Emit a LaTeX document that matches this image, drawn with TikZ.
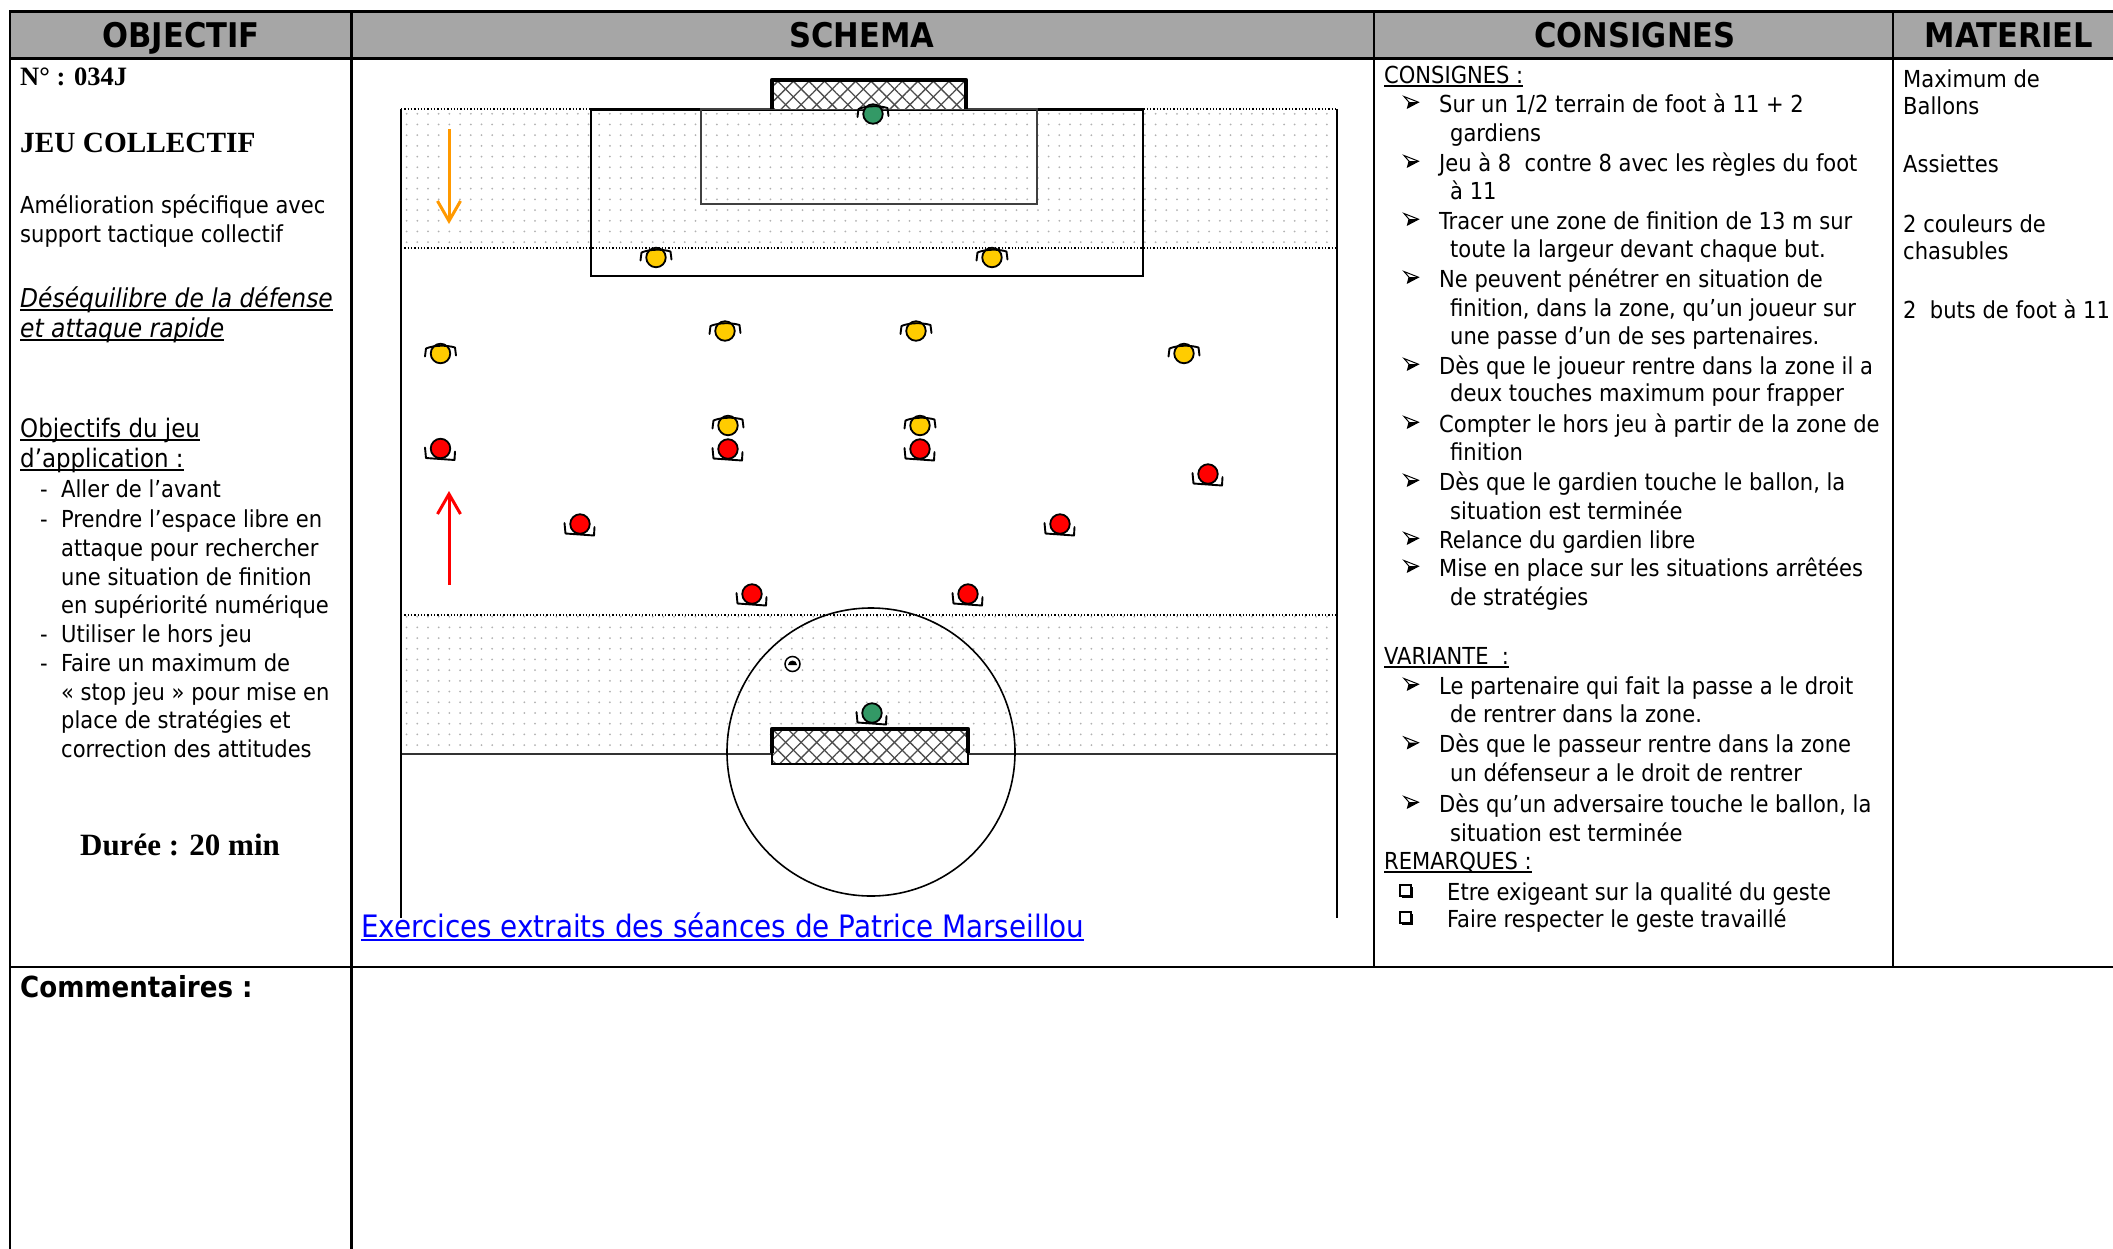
\documentclass[tikz,border=0pt]{standalone}
\usepackage{fontspec}
\setmainfont{DejaVu Sans Condensed}
\newfontfamily\tms{Liberation Serif}
\usetikzlibrary{patterns.meta,arrows.meta}
\definecolor{hdr}{RGB}{166,166,166}
\definecolor{pyel}{RGB}{255,204,0}
\definecolor{pred}{RGB}{255,0,0}
\definecolor{pgrn}{RGB}{51,153,102}
\definecolor{porg}{RGB}{255,153,0}
\definecolor{lnk}{RGB}{0,0,255}
\newcommand\myul[1]{\setbox0\hbox{#1}\rlap{\rule[-3.5pt]{\wd0}{1.6pt}}\box0}
\tikzset{
  grid/.style={line width=2.6pt, line cap=rect},
  txt/.style={anchor=base west, inner sep=0pt, font=\fontsize{23.4}{28}\selectfont},
  txtb/.style={anchor=base west, inner sep=0pt, font=\fontsize{25.5}{30}\selectfont},
  txti/.style={anchor=base west, inner sep=0pt, font=\fontsize{26}{30}\selectfont\itshape},
  hd/.style={anchor=base, inner sep=0pt, font=\fontsize{34}{38}\selectfont\bfseries},
  tmsb/.style={anchor=base west, inner sep=0pt, font=\tms\bfseries\fontsize{26.5}{30}\selectfont},
  plyr/.style={circle, draw=black, line width=1.8pt, minimum size=19.5pt, inner sep=0pt},
  arm/.style={line width=1.9pt, line join=round, line cap=round},
  zone/.style={pattern={Dots[distance=10.7pt, radius=1pt]}, pattern color=black!30},
  net/.style={pattern={Lines[angle=45, distance=11pt, line width=1.3pt]}, pattern color=black!70},
  net2/.style={pattern={Lines[angle=-45, distance=11pt, line width=1.3pt]}, pattern color=black!70},
  fline/.style={line width=1.6pt},
  dline/.style={line width=1.3pt, dotted},
  goalf/.style={line width=4.6pt, line join=round},
  arrowln/.style={line width=3pt, -{Straight Barb[length=20pt, width=23pt]}},
}
\newcommand\pyl[3]{\node[plyr, fill=pyel] (#1) at (#2,#3) {};
  \draw[arm] ([shift={(-15.5,3)}]#1.center) -- ([shift={(-14.5,-5)}]#1.center) .. controls ([shift={(-6,-8.5)}]#1.center) and ([shift={(6,-8.5)}]#1.center) .. ([shift={(14.5,-6)}]#1.center) -- ([shift={(15.5,2)}]#1.center);}
\newcommand\prd[3]{\node[plyr, fill=pred] (#1) at (#2,#3) {};
  \draw[arm] ([shift={(-15.5,-1)}]#1.center) -- ([shift={(-14.5,9.5)}]#1.center) -- ([shift={(14,11.5)}]#1.center) -- ([shift={(14.5,3)}]#1.center);}
\newcommand\arrbul[2]{\fill[black] (#1+5,#2-9.8) -- (#1+14.5,#2-9.8) -- (#1+3.5,#2-4) -- cycle;
  \draw[line width=1pt, line join=miter] (#1,#2-15.5) -- (#1+14.5,#2-9.8) -- (#1+3.5,#2-4) -- (#1+5,#2-9.8) -- cycle;}
\newcommand\sqbul[2]{\draw[line width=1.1pt] (#1,#2-15) rectangle (#1+11,#2-4);
  \draw[line width=2.4pt] (#1+1.5,#2-2.8) -- (#1+12.2,#2-2.8) -- (#1+12.2,#2-13.5);}
\begin{document}
\begin{tikzpicture}[x=1pt,y=-1pt]
\useasboundingbox (0,0) rectangle (2113,1248);
\fill[white] (0,0) rectangle (2113,1248);
% ---------- table ----------
\fill[hdr] (10,11.5) rectangle (2113,58.5);
\draw[grid] (10,11.5) -- (2113,11.5);
\draw[grid] (10,58.5) -- (2113,58.5);
\draw[grid] (10,967) -- (2113,967);
\draw[grid] (10,11.5) -- (10,1260);
\draw[grid] (351.5,11.5) -- (351.5,1260);
\draw[grid] (1374,11.5) -- (1374,967);
\draw[grid] (1893,11.5) -- (1893,967);
\node[hd] (h1) at (181,47) {OBJECTIF};
\node[hd] (h2) at (862,47) {SCHEMA};
\node[hd] (h3) at (1635,47) {CONSIGNES};
\node[hd] (h4) at (2009,47) {MATERIEL};
% ---------- left column ----------
\node[tmsb] (num) at (20,85) {N° : 034J};
\node[tmsb, font=\tms\bfseries\fontsize{29.3}{32}\selectfont] (jeu) at (20,152) {JEU COLLECTIF};
\node[txt] (am1) at (20,213) {Amélioration spécifique avec};
\node[txt] (am2) at (20,242) {support tactique collectif};
\node[txti] (de1) at (20,307) {\myul{Déséquilibre de la défense}};
\node[txti] (de2) at (20,337) {\myul{et attaque rapide}};
\node[txtb] (ob1) at (20,437) {\myul{Objectifs du jeu}};
\node[txtb] (ob2) at (20,467) {\myul{d’application :}};
\node[txt] (d1) at (40,497) {-};
\node[txt] (o1) at (61,497) {Aller de l’avant};
\node[txt] (d2) at (40,527) {-};
\node[txt] (o2) at (61,527) {Prendre l’espace libre en};
\node[txt] (o3) at (61,556) {attaque pour rechercher};
\node[txt] (o4) at (61,585) {une situation de finition};
\node[txt] (o5) at (61,613) {en supériorité numérique};
\node[txt] (d3) at (40,642) {-};
\node[txt] (o6) at (61,642) {Utiliser le hors jeu};
\node[txt] (d4) at (40,671) {-};
\node[txt] (o7) at (61,671) {Faire un maximum de};
\node[txt] (o8) at (61,700) {« stop jeu » pour mise en};
\node[txt] (o9) at (61,728) {place de stratégies et};
\node[txt] (o10) at (61,757) {correction des attitudes};
\node[anchor=base, inner sep=0pt, font=\tms\bfseries\fontsize{31}{34}\selectfont] (dur) at (180,855) {Durée : 20 min};
\node[txt, font=\fontsize{29}{32}\selectfont\bfseries] (com) at (20,997) {Commentaires :};
% ---------- consignes ----------
\node[txt] (cs) at (1384,83.5) {\myul{CONSIGNES :}};
\arrbul{1404}{112}
\node[txt] (c1) at (1439,112) {Sur un 1/2 terrain de foot à 11 + 2};
\node[txt] (c1b) at (1450,141) {gardiens};
\arrbul{1404}{171}
\node[txt] (c2) at (1439,171) {Jeu à 8 \ contre 8 avec les règles du foot};
\node[txt] (c2b) at (1450,199) {à 11};
\arrbul{1404}{229}
\node[txt] (c3) at (1439,229) {Tracer une zone de finition de 13 m sur};
\node[txt] (c3b) at (1450,257) {toute la largeur devant chaque but.};
\arrbul{1404}{287}
\node[txt] (c4) at (1439,287) {Ne peuvent pénétrer en situation de};
\node[txt] (c4b) at (1450,316) {finition, dans la zone, qu’un joueur sur};
\node[txt] (c4c) at (1450,344) {une passe d’un de ses partenaires.};
\arrbul{1404}{374}
\node[txt] (c5) at (1439,374) {Dès que le joueur rentre dans la zone il a};
\node[txt] (c5b) at (1450,401) {deux touches maximum pour frapper};
\arrbul{1404}{432}
\node[txt] (c6) at (1439,432) {Compter le hors jeu à partir de la zone de};
\node[txt] (c6b) at (1450,460) {finition};
\arrbul{1404}{490}
\node[txt] (c7) at (1439,490) {Dès que le gardien touche le ballon, la};
\node[txt] (c7b) at (1450,519) {situation est terminée};
\arrbul{1404}{548}
\node[txt] (c8) at (1439,548) {Relance du gardien libre};
\arrbul{1404}{576}
\node[txt] (c9) at (1439,576) {Mise en place sur les situations arrêtées};
\node[txt] (c9b) at (1450,605) {de stratégies};
\node[txt] (va) at (1384,664) {\myul{VARIANTE \ :}};
\arrbul{1404}{694}
\node[txt] (v1) at (1439,694) {Le partenaire qui fait la passe a le droit};
\node[txt] (v1b) at (1450,722) {de rentrer dans la zone.};
\arrbul{1404}{752.5}
\node[txt] (v2) at (1439,752.5) {Dès que le passeur rentre dans la zone};
\node[txt] (v2b) at (1450,781) {un défenseur a le droit de rentrer};
\arrbul{1404}{812}
\node[txt] (v3) at (1439,812) {Dès qu’un adversaire touche le ballon, la};
\node[txt] (v3b) at (1450,841) {situation est terminée};
\node[txt] (rq) at (1384,869.5) {\myul{REMARQUES :}};
\sqbul{1400}{900}
\node[txt] (r1) at (1447,900) {Etre exigeant sur la qualité du geste};
\sqbul{1400}{927}
\node[txt] (r2) at (1447,927) {Faire respecter le geste travaillé};
% ---------- materiel ----------
\node[txt] (m1) at (1903,87) {Maximum de};
\node[txt] (m2) at (1903,114.5) {Ballons};
\node[txt] (m3) at (1903,172) {Assiettes};
\node[txt] (m4) at (1903,232) {2 couleurs de};
\node[txt] (m5) at (1903,259) {chasubles};
\node[txt] (m6) at (1903,318) {2 \ buts de foot à 11};
% ---------- schema ----------
\path[zone] (401,109) rectangle (1337,248);
\path[zone] (401,615) rectangle (1337,754);
\draw[dline] (401,109) -- (1337,109);
\draw[dline] (401,248) -- (1337,248);
\draw[dline] (401,615) -- (1337,615);
\draw[line width=1.8pt, black!80] (401,754) -- (1337,754);
\draw[fline] (401,109) -- (401,918);
\draw[fline] (1337,109) -- (1337,918);
\draw[fline] (591,109) rectangle (1143,276);
\draw[line width=3pt] (591,109) -- (1143,109);
\draw[line width=1.4pt, black!75] (701,109) rectangle (1037,204);
\draw[fline] (871,752) circle[radius=144];
% upper goal
\fill[white] (772,80) rectangle (966,109);
\path[net] (772,80) rectangle (966,109);
\path[net2] (772,80) rectangle (966,109);
\draw[goalf] (772,109) -- (772,80) -- (966,80) -- (966,109);
% lower goal
\fill[white] (772,729) rectangle (968,764);
\path[net] (772,729) rectangle (968,764);
\path[net2] (772,729) rectangle (968,764);
\draw[line width=1.6pt] (772,729) rectangle (968,764);
\draw[goalf] (772,753) -- (772,729) -- (968,729) -- (968,753);
% arrows
\coordinate (oa1) at (449,129);
\coordinate (oa2) at (449,224);
\draw[arrowln, porg] (oa1) -- (oa2);
\coordinate (ra1) at (449,585);
\coordinate (ra2) at (449,491);
\draw[arrowln, pred] (ra1) -- (ra2);
% players
\pyl{y1}{656}{257.5}
\pyl{y2}{992}{257.5}
\pyl{y3}{725}{331}
\pyl{y4}{916}{331}
\pyl{y5}{440.5}{353.5}
\pyl{y6}{1184}{353.5}
\pyl{y7}{728}{425.5}
\pyl{y8}{920}{425.5}
\prd{r1}{440.5}{448.5}
\prd{r2}{728}{449}
\prd{r3}{920}{449}
\prd{r4}{1208}{474}
\prd{r5}{580}{524}
\prd{r6}{1060}{524}
\prd{r7}{752}{594}
\prd{r8}{968}{594}
% goalkeepers
\node[plyr, fill=pgrn] (gk1) at (873,114) {};
\draw[arm] ([shift={(-15.5,3)}]gk1.center) -- ([shift={(-14.5,-5)}]gk1.center) .. controls ([shift={(-6,-8.5)}]gk1.center) and ([shift={(6,-8.5)}]gk1.center) .. ([shift={(14.5,-6)}]gk1.center) -- ([shift={(15.5,2)}]gk1.center);
\node[plyr, fill=pgrn] (gk2) at (872,713) {};
\draw[arm] ([shift={(-15.5,-1)}]gk2.center) -- ([shift={(-14.5,9.5)}]gk2.center) -- ([shift={(14,11.5)}]gk2.center) -- ([shift={(14.5,3)}]gk2.center);
% ball
\node[circle, draw=black, fill=white, line width=1.5pt, minimum size=15pt, inner sep=0pt] (ball) at (792.5,664) {};
\fill[black] ([shift={(-4.5,1)}]ball.center) arc[start angle=180, end angle=360, radius=4.5] -- cycle;
% link
\node[txt, font=\fontsize{30.9}{34}\selectfont, text=lnk] (link) at (361,937) {\myul{Exercices extraits des séances de Patrice Marseillou}};
\end{tikzpicture}
\end{document}
